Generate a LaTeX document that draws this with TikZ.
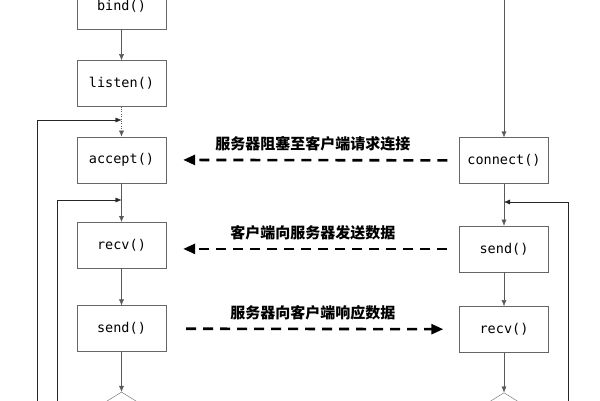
\documentclass[tikz,border=0pt]{standalone}
\usepackage{fontspec}
\setmonofont{DejaVu Sans Mono}
\newfontfamily\cjk{Noto Sans CJK SC}
\usetikzlibrary{positioning,arrows.meta,shapes.geometric}

\tikzset{
    callbox/.style={draw=black!60, rectangle, minimum width=89pt, minimum height=46pt, inner sep=0pt, font=\fontsize{13.5}{15}\ttfamily},
    testbox/.style={draw=black!60, diamond, minimum width=110pt, minimum height=68pt, inner sep=0pt},
    flow/.style={draw=black!65, -{Latex[length=6pt,width=5pt]}},
    loopline/.style={draw=black!85, -{Latex[length=6pt,width=5pt]}},
    msg/.style={line width=2.6pt, dash pattern=on 10pt off 7pt, -{Triangle[length=12pt,width=10pt]}},
    msgtext/.style={font=\cjk\bfseries\fontsize{15}{17}\selectfont}
}

\begin{document}
\begin{tikzpicture}[x=1pt, y=-1pt]
    \clip (0,0) rectangle (600,400);
    % server side
    \node [callbox] (bind) at (121.5,6) {bind()};
    \node [callbox, below=31pt of bind] (listen) {listen()};
    \node [callbox, below=30pt of listen] (accept) {accept()};
    \node [callbox, below=39pt of accept] (srecv) {recv()};
    \node [callbox, below=37pt of srecv] (ssend) {send()};
    \node [testbox, below=40pt of ssend] (stest) {};
    % client side
    \node [callbox] (connect) at (504,160.5) {connect()};
    \node [callbox, below=42pt of connect] (csend) {send()};
    \node [callbox, below=34pt of csend] (crecv) {recv()};
    \node [testbox, below=40pt of crecv] (ctest) {};

    \coordinate (ctop) at (504,-5);
    \coordinate (ajoin) at (121.5,120);
    \coordinate (rjoin) at (121.5,200);
    \coordinate (cjoin) at (504,202);
    \coordinate (outer) at (37,410);
    \coordinate (inner) at (57,410);
    \coordinate (cloop) at (568,410);

    \draw [flow] (bind) -- (listen);
    \draw [flow, dotted] (listen) -- (accept);
    \draw [flow] (accept) -- (srecv);
    \draw [flow] (srecv) -- (ssend);
    \draw [flow] (ssend) -- (stest);
    \draw [flow] (ctop) -- (connect);
    \draw [flow] (connect) -- (csend);
    \draw [flow] (csend) -- (crecv);
    \draw [flow] (crecv) -- (ctest);

    % loops back
    \draw [loopline] (outer) |- (ajoin);
    \draw [loopline] (inner) |- (rjoin);
    \draw [loopline] (cloop) |- (cjoin);

    % messages
    \draw [msg, shorten <=12pt, shorten >=17pt] (connect) -- node [msgtext, above=4pt] {服务器阻塞至客户端请求连接} (accept);
    \draw [msg, shorten <=12pt, shorten >=17pt] (csend.west) -- node [msgtext, above=4pt] {客户端向服务器发送数据} (csend.west -| srecv.east);
    \draw [msg, shorten <=20pt, shorten >=16pt] (ssend) -- node [msgtext, above=4pt] {服务器向客户端响应数据} (crecv);
\end{tikzpicture}
\end{document}
